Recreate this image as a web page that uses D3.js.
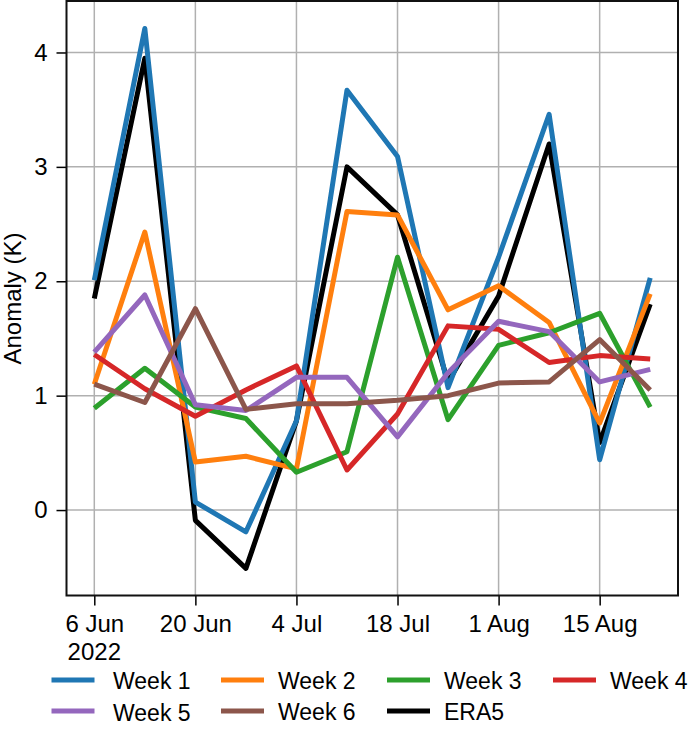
<!DOCTYPE html>
<html><head><meta charset="utf-8">
<script src="https://cdn.jsdelivr.net/npm/d3@7"></script>
<style>
html,body{margin:0;padding:0;background:#fff}
svg{display:block}
text{font-family:"Liberation Sans",Arial,sans-serif;fill:#000}
</style></head><body>
<svg id="c" width="690" height="733"></svg>
<script>
const dates = ["2022-06-06","2022-06-13","2022-06-20","2022-06-27","2022-07-04","2022-07-11","2022-07-18","2022-07-25","2022-08-01","2022-08-08","2022-08-15","2022-08-22"];
const week1 = [2.01,4.21,0.07,-0.19,0.78,3.67,3.09,1.07,2.21,3.46,0.44,2.03];
const week2 = [1.10,2.43,0.42,0.47,0.36,2.61,2.58,1.75,1.96,1.64,0.76,1.89];
const week3 = [0.89,1.24,0.90,0.80,0.33,0.51,2.21,0.79,1.44,1.55,1.72,0.90];
const week4 = [1.36,1.06,0.82,1.05,1.26,0.35,0.84,1.61,1.58,1.29,1.35,1.32];
const week5 = [1.38,1.88,0.92,0.87,1.16,1.16,0.64,1.20,1.65,1.56,1.12,1.23];
const week6 = [1.10,0.94,1.76,0.88,0.93,0.93,0.96,1.00,1.11,1.12,1.49,1.05];
const era5  = [1.85,3.95,-0.09,-0.51,0.78,3.00,2.58,1.12,1.87,3.20,0.59,1.80];
const seriesNames = ["Week 1","Week 2","Week 3","Week 4","Week 5","Week 6","ERA5"];
const colors = ["#1f77b4","#ff7f0e","#2ca02c","#d62728","#9467bd","#8c564b","#000000"];
const xTickDates = ["2022-06-06","2022-06-20","2022-07-04","2022-07-18","2022-08-01","2022-08-15"];
const yTicks = [0,1,2,3,4];
const yDomain = [-0.747,4.45];
const xPadDays = 3.85;

const allSeries = [week1,week2,week3,week4,week5,week6,era5];
const drawOrder = [6,0,1,2,3,4,5];
const parse = d3.utcParse("%Y-%m-%d");
const day = 864e5;
const L=66.5,R=678,T=1,B=595.5;
const svg = d3.select("#c");
const t0 = parse(dates[0]), t1 = parse(dates[dates.length-1]);
const x = d3.scaleUtc().domain([new Date(+t0-xPadDays*day), new Date(+t1+xPadDays*day)]).range([L,R]);
const y = d3.scaleLinear().domain(yDomain).range([B,T]);
const FS = 24;

// grid
const grid = svg.append("g").attr("stroke","#b0b0b0").attr("stroke-width",1.5);
xTickDates.forEach(d=>grid.append("line").attr("x1",x(parse(d))).attr("x2",x(parse(d))).attr("y1",T).attr("y2",B));
yTicks.forEach(v=>grid.append("line").attr("x1",L).attr("x2",R).attr("y1",y(v)).attr("y2",y(v)));

// lines
const line = d3.line().x((d,i)=>x(parse(dates[i]))).y(d=>y(d));
svg.append("clipPath").attr("id","pc").append("rect").attr("x",L).attr("y",T).attr("width",R-L).attr("height",B-T);
drawOrder.forEach(i=>{
  svg.append("path").datum(allSeries[i]).attr("d",line).attr("fill","none").attr("stroke",colors[i])
    .attr("stroke-width",5).attr("stroke-linejoin","round").attr("stroke-linecap","butt").attr("clip-path","url(#pc)");
});

// axes
const fmt = d3.utcFormat("%-d %b");
const xAxis = d3.axisBottom(x).tickValues(xTickDates.map(parse)).tickFormat(fmt).tickSize(10).tickPadding(9);
const gx = svg.append("g").attr("transform",`translate(0,${B})`).call(xAxis);
const yAxis = d3.axisLeft(y).tickValues(yTicks).tickFormat(d3.format("d")).tickSize(10).tickPadding(9);
const gy = svg.append("g").attr("transform",`translate(${L},0)`).call(yAxis);
[gx,gy].forEach(g=>{
  g.select(".domain").remove();
  g.selectAll("line").attr("stroke","#000").attr("stroke-width",1.5);
  g.selectAll("text").style("font-size",FS+"px").style("font-family","'Liberation Sans'").attr("fill","#000");
});
svg.append("rect").attr("x",L).attr("y",T).attr("width",R-L).attr("height",B-T).attr("fill","none").attr("stroke","#111").attr("stroke-width",2);

svg.append("text").attr("x",x(t0)).attr("y",660).attr("text-anchor","middle").style("font-size",FS+"px").text("2022");
svg.append("text").attr("transform","translate(21,298.5) rotate(-90)").attr("text-anchor","middle").style("font-size","24px").text("Anomaly (K)");

// legend
const legendX = [51.5,221,387,553];
const legendTextX = [113,278,444,610];
const legendY = [680,711];
const legendTextDy = [0,0,0,0,1.5,0,0];
seriesNames.forEach((n,i)=>{
  const col = i<4?i:i-4, cy = legendY[i<4?0:1];
  const cx = legendX[col];
  svg.append("line").attr("x1",cx).attr("x2",cx+43).attr("y1",cy).attr("y2",cy).attr("stroke",colors[i]).attr("stroke-width",5);
  svg.append("text").attr("x",legendTextX[col]).attr("y",cy+8.5+legendTextDy[i]).style("font-size","23px").text(n);
});
</script>
</body></html>
